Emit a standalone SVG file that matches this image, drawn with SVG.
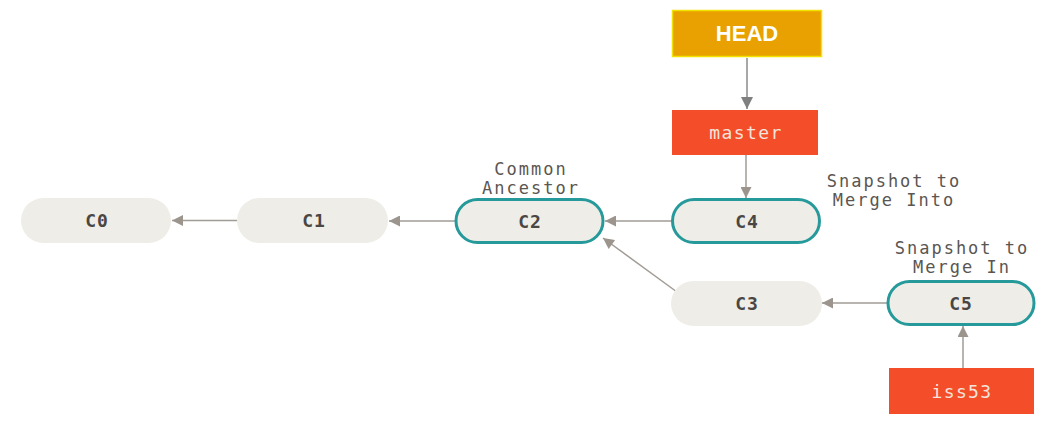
<svg xmlns="http://www.w3.org/2000/svg" width="1056" height="431" viewBox="0 0 1056 431">
<defs>
<marker id="ah" viewBox="0 0 10 10" refX="10" refY="5" markerWidth="18" markerHeight="11" markerUnits="userSpaceOnUse" orient="auto"><path d="M0,0 L10,5 L0,10 z" fill="#9b958d"/></marker>
<marker id="ahd" viewBox="0 0 10 10" refX="10" refY="5" markerWidth="18" markerHeight="12" markerUnits="userSpaceOnUse" orient="auto"><path d="M0,0 L10,5 L0,10 z" fill="#808080"/></marker>
<style>
.commit{fill:#eeede7}
.hl{stroke:#26999b;stroke-width:3}
.ct{font-family:"DejaVu Sans Mono",monospace;font-size:18px;font-weight:bold;fill:#4a4643;text-anchor:middle;letter-spacing:1px}
.br{fill:#f34e29}
.bt{font-family:"DejaVu Sans Mono",monospace;font-size:18px;fill:#f5e3dc;text-anchor:middle;letter-spacing:1.4px}
.lbl{font-family:"DejaVu Sans Mono",monospace;font-size:17px;fill:#5a5652;text-anchor:middle;letter-spacing:2px}
.edge{stroke:#a19c96;stroke-width:1.5;fill:none;marker-end:url(#ah)}
.edged{stroke:#8a8a8a;stroke-width:1.5;fill:none;marker-end:url(#ahd)}
</style>
</defs>
<g id="connectors">
<line class="edge" x1="237" y1="220.5" x2="172" y2="220.5"/>
<line class="edge" x1="455" y1="221" x2="389" y2="221"/>
<line class="edge" x1="672" y1="221" x2="605" y2="221"/>
<line class="edge" x1="677" y1="292" x2="603" y2="238"/>
<line class="edge" x1="887" y1="303" x2="822" y2="303"/>
<line class="edge" x1="963" y1="368" x2="963" y2="326"/>
<line class="edged" x1="747" y1="58" x2="747" y2="109"/>
<line class="edge" x1="746" y1="155" x2="746" y2="198"/>
</g>
<g id="HEAD"><rect x="672.5" y="10.5" width="149" height="46" fill="#e8a100" stroke="#f2e200" stroke-width="1.5"/><text x="747" y="41" font-family="Liberation Sans,Arial,sans-serif" font-size="22" font-weight="bold" fill="#ffffff" text-anchor="middle">HEAD</text></g>
<g id="master"><rect class="br" x="672" y="110" width="146" height="45"/><text class="bt" x="746" y="139">master</text></g>
<g id="iss53"><rect class="br" x="889" y="368" width="145" height="46"/><text class="bt" x="962" y="398">iss53</text></g>
<g id="C0"><rect class="commit" x="21" y="198" width="150" height="45" rx="22.5"/><text class="ct" x="97" y="227">C0</text></g>
<g id="C1"><rect class="commit" x="237" y="198" width="151" height="45" rx="22.5"/><text class="ct" x="314" y="227">C1</text></g>
<g id="C2"><rect class="commit hl" x="456" y="199.5" width="147" height="43" rx="21.5"/><text class="ct" x="530" y="228">C2</text></g>
<g id="C4"><rect class="commit hl" x="672.5" y="199.5" width="147" height="43" rx="21.5"/><text class="ct" x="747" y="228">C4</text></g>
<g id="C3"><rect class="commit" x="671" y="281" width="151" height="45" rx="22.5"/><text class="ct" x="747" y="310">C3</text></g>
<g id="C5"><rect class="commit hl" x="888" y="281.5" width="146" height="43" rx="21.5"/><text class="ct" x="961" y="310">C5</text></g>
<g id="labels">
<text class="lbl" x="531" y="175">Common</text>
<text class="lbl" x="531" y="194">Ancestor</text>
<text class="lbl" x="894" y="187">Snapshot to</text>
<text class="lbl" x="894" y="206">Merge Into</text>
<text class="lbl" x="962" y="254">Snapshot to</text>
<text class="lbl" x="962" y="273">Merge In</text>
</g>
</svg>
